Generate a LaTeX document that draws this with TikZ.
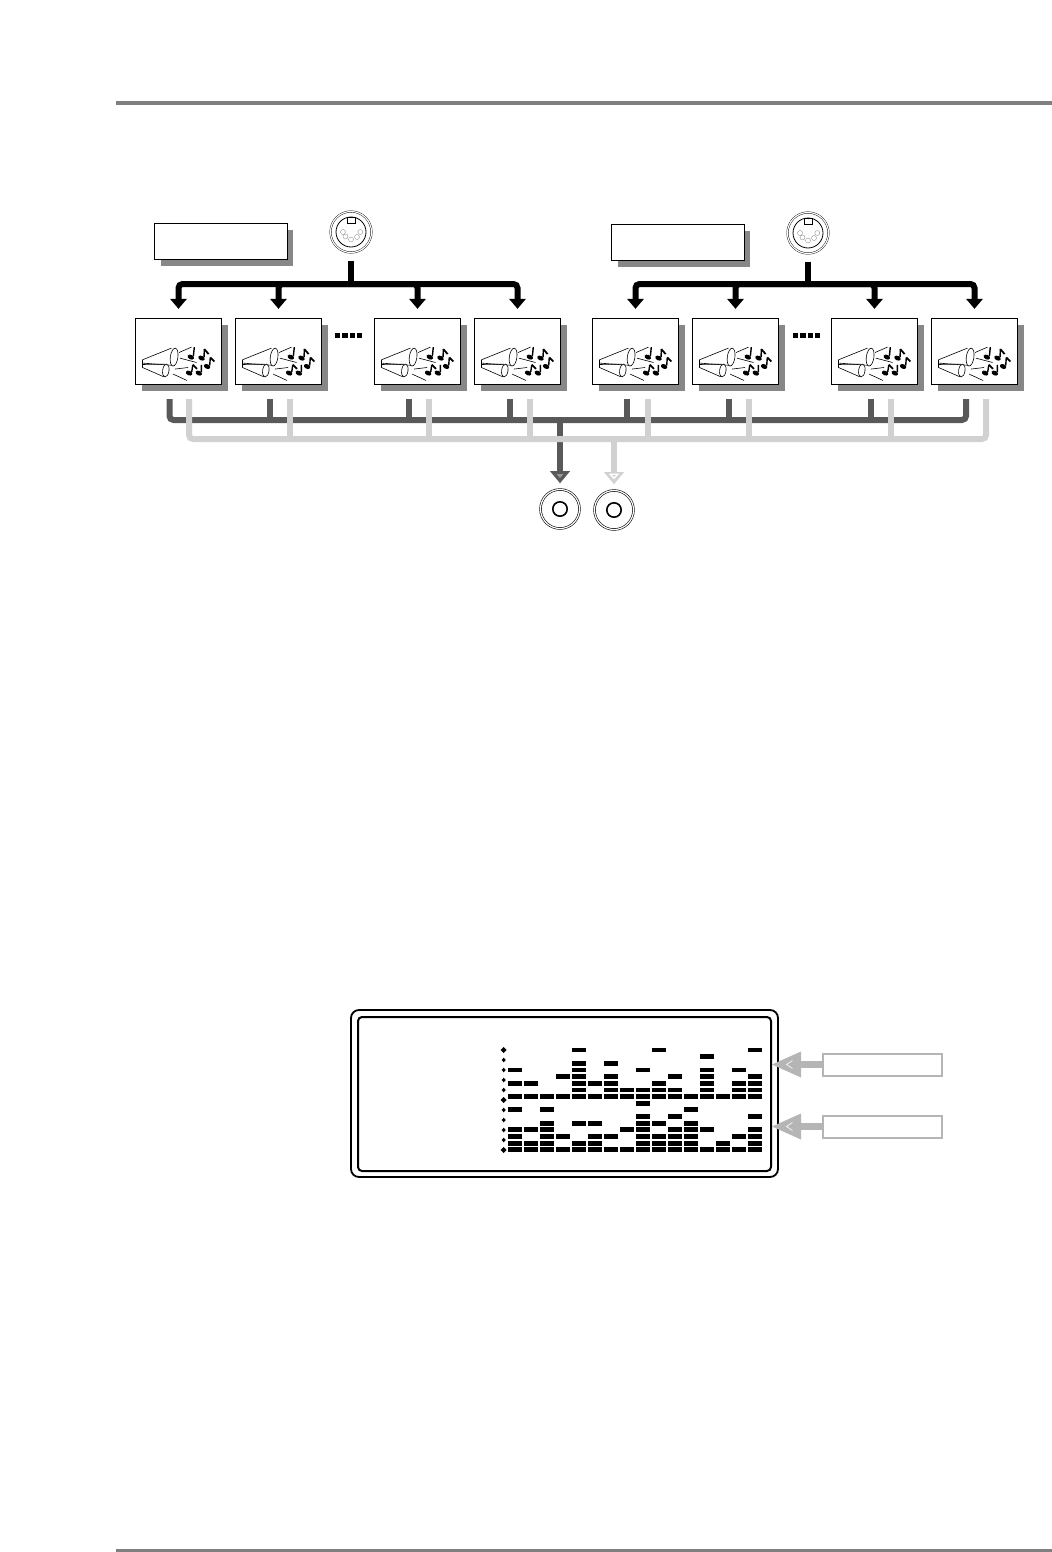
\documentclass[tikz,border=0pt]{standalone}
\usetikzlibrary{arrows.meta,shadows,shapes.geometric}
\definecolor{rulegray}{gray}{0.5}
\definecolor{shadegray}{gray}{0.53}
\definecolor{darkbus}{gray}{0.35}
\definecolor{lightbus}{gray}{0.82}
\definecolor{taggray}{gray}{0.71}
\begin{document}
\begin{tikzpicture}[
    x=0.5pt,y=-0.5pt,
    panel/.style={rectangle,draw,line width=0.7pt,fill=white,inner sep=0pt,
        drop shadow={shadow xshift=3pt,shadow yshift=-3pt,fill=shadegray,opacity=1}},
    label box/.style={panel,minimum width=66.3pt,minimum height=18pt},
    inst/.style={panel,minimum width=43pt,minimum height=33pt},
    din/.style={circle,draw,line width=0.2pt,double,double distance=0.6pt,minimum size=20.5pt,inner sep=0pt},
    jack/.style={circle,draw,line width=0.3pt,double,double distance=0.6pt,minimum size=19.5pt,inner sep=0pt},
    jack core/.style={circle,draw,line width=0.8pt,minimum size=7.2pt,inner sep=0pt},
    midi/.style={-{Triangle[width=8.5pt,length=5pt,line width=0pt]},line width=3pt,rounded corners=2pt,shorten >=4.5pt},
    midi line/.style={line width=3pt,shorten <=4pt},
    dark line/.style={line width=3pt,draw=darkbus,rounded corners=2pt},
    light line/.style={line width=3pt,draw=lightbus,rounded corners=2pt},
    out arrow/.style={line width=3pt,-{Triangle[width=10pt,length=6pt,line width=0pt]},shorten >=3pt},
    tag/.style={rectangle,draw=taggray,line width=1pt,minimum width=59.5pt,minimum height=11pt,inner sep=0pt},
    tag arrow/.style={-{Triangle[width=13pt,length=14.5pt,line width=0pt]},line width=3.2pt,draw=taggray,fill=taggray},
    horn/.pic={
        \draw[line width=0.3pt] (7.7,42) -- (36.7,30.3) (7.7,45.3) -- (40,47.7);
        \draw[line width=0.3pt] (7.7,46.7) -- (30,46.3) (7.7,49.7) -- (29,59) (7.7,42) -- (7.7,49.7);
        \draw[line width=0.3pt,fill=white] (39.3,39.3) ellipse [x radius=3.8,y radius=9,rotate=-8];
        \draw[line width=0.3pt,fill=white] (31,52.7) ellipse [x radius=3.2,y radius=6.5,rotate=-8];
        \draw[line width=0.3pt] (44.3,34.7) -- (56.7,29.3) (45,40.3) -- (61.7,44.7)
            (40,51.3) -- (53.3,49.7) (38.3,56.3) -- (52.3,62.7);
        % notes
        \foreach \hx/\hy/\tx/\ty in {56/39.3/59.5/29.3,66.7/40.3/69.5/31.3,72.3/48.7/75.5/39.7,54.3/55.3/58/47,64/55.3/66.5/47}{
            \fill[rotate around={-25:(\hx,\hy)}] (\hx,\hy) ellipse [x radius=3.4,y radius=2.3];
            \draw[line width=0.7pt] (\hx+2.6,\hy-1) -- (\tx,\ty);
        }
        \draw[line width=0.9pt] (69.5,31.3) -- (73.8,36.3) (75.5,39.7) -- (79.5,43.7) (58,47) -- (62.2,51);
    },
    din pins/.pic={
        \draw[line width=0.4pt] (0,0) circle [radius=15];
        \draw[line width=0.4pt,fill=white] (-4,-15) rectangle (4,-9);
        \foreach \px/\py in {-8/0,-5.5/4.5,0/7.5,6/5,9.3/0}
            \draw[line width=0.15pt,gray] (\px,\py) circle [radius=2.5];
    }
]
    \useasboundingbox (0,0) rectangle (1052,1552);
    \fill[white] (0,0) rectangle (1052,1552);

    % Page rules
    \coordinate (ruleA) at (116,103.5);
    \coordinate (ruleB) at (1052,103.5);
    \coordinate (ruleC) at (116,1550);
    \coordinate (ruleD) at (1052,1550);
    \draw[rulegray,line width=2pt] (ruleA) -- (ruleB);
    \draw[rulegray,line width=1.5pt] (ruleC) -- (ruleD);

    % Top boxes and MIDI sockets
    \node[label box] (portA) at (221,241.5) {};
    \node[label box] (portB) at (678,242.5) {};
    \node[din] (dinA) at (351,232) {};
    \node[din] (dinB) at (808,233) {};
    \pic at (dinA) {din pins};
    \pic at (dinB) {din pins};

    % Sound sources
    \foreach \i/\x in {1/178.5,2/278.5,3/417.5,4/517.5,5/635.5,6/735.5,7/874.5,8/974.5}{
        \node[inst] (inst\i) at (\x,351.5) {};
        \pic at (inst\i.north west) {horn};
    }

    % Dots between the boxes
    \foreach \x in {335,342.4,349.8,357.2,793,800.4,807.8,815.2}
        \fill (\x,332.5) rectangle (\x+5.2,338);

    % MIDI buses
    \coordinate (hubA) at (351,284);
    \coordinate (hubB) at (808,284);
    \draw[midi line] (dinA) -- (hubA);
    \draw[midi line] (dinB) -- (hubB);
    \foreach \i in {1,2,3,4} \draw[midi] (hubA) -| (inst\i);
    \foreach \i in {5,6,7,8} \draw[midi] (hubB) -| (inst\i);

    % Audio buses, left channel
    \coordinate (busL) at (560,420);
    \foreach \i/\x in {1/169.5,2/270,3/409,4/510,5/627,6/729,7/871,8/966}
        \coordinate (dtop\i) at (\x,399);
    \draw[dark line] (dtop1) |- (dtop8 |- busL) -- (dtop8);
    \foreach \i in {2,3,4,5,6,7}
        \draw[dark line] (dtop\i) -- (dtop\i |- busL);
    \node[jack] (jackL) at (560,509) {};
    \node[jack core] (coreL) at (560,509) {};
    \draw[out arrow,draw=darkbus] (busL) -- (jackL);

    % Audio buses, right channel
    \coordinate (busR) at (614,439);
    \foreach \i/\x in {1/189,2/290,3/429,4/530,5/648,6/749,7/891,8/986}
        \coordinate (ltop\i) at (\x,399);
    \draw[light line] (ltop1) |- (ltop8 |- busR) -- (ltop8);
    \foreach \i in {2,3,4,5,6,7}
        \draw[light line] (ltop\i) -- (ltop\i |- busR);
    \node[jack] (jackR) at (614,510) {};
    \node[jack core] (coreR) at (614,510) {};
    \draw[out arrow,draw=lightbus] (busR) -- (jackR);
    % arrow head centres
    \fill[gray!80] (556.5,474) -- (563.5,474) -- (560,478) -- cycle;
    \fill[white] (608.5,473.5) -- (619.5,473.5) -- (614,479.5) -- cycle;
    \fill[lightbus] (612,475) -- (616,475) -- (614,477) -- cycle;

    % Display
    \node[draw,line width=0.9pt,rounded corners=4pt,minimum width=213.5pt,minimum height=83.5pt,inner sep=0pt] (lcd) at (564.5,1093.5) {};
    \node[draw,line width=1pt,rounded corners=2pt,minimum width=206.5pt,minimum height=77pt,inner sep=0pt] (screen) at (564.5,1094) {};

    % Scale marks
    \foreach \n in {0,...,10}
        \fill (503.7,1050+\n*10) +(-2,0) -- +(0,-2.3) -- +(2,0) -- +(0,2.3) -- cycle;
    \foreach \n in {0,5,10}
        \fill (503.7,1050+\n*10) +(-3,0) -- +(0,-3) -- +(3,0) -- +(0,3) -- cycle;

    % Level bars
    \foreach \r/\cols in {0/{5,10,16},1/{13},2/{5,7},3/{1,5,9,13,15},4/{4,5,7,11,13,16},
        5/{1,2,5,6,7,10,13,15,16},6/{5,7,8,9,10,11,13,15,16},7/{1,2,3,4,5,6,7,8,9,10,11,12,13,14,15,16},
        8/{9},9/{1,3,12},10/{9,11,16},11/{3,5,6,9,10,12},12/{1,2,3,8,9,11,12,13,16},
        13/{1,3,4,6,7,9,10,11,12,15,16},14/{1,2,3,5,6,9,10,11,12,14,16},
        15/{1,2,3,4,5,6,7,8,9,10,11,12,13,14,15,16}}{
        \foreach \c in \cols
            \fill (508.2+\c*16-16,1047.6+\r*6.65) rectangle (522.4+\c*16-16,1052.4+\r*6.65);
    }

    % Pointers
    \node[tag] (tagA) at (882,1064.5) {};
    \node[tag] (tagB) at (882,1126.5) {};
    \draw[tag arrow] (tagA) -- (tagA -| screen.east);
    \draw[tag arrow] (tagB) -- (tagB -| screen.east);
    \foreach \t in {tagA,tagB}
        \draw[white,line width=0.3pt] ([xshift=-14.5pt,yshift=2pt]\t.west) -- ([xshift=-17.5pt]\t.west) -- ([xshift=-14.5pt,yshift=-2pt]\t.west);
\end{tikzpicture}
\end{document}
